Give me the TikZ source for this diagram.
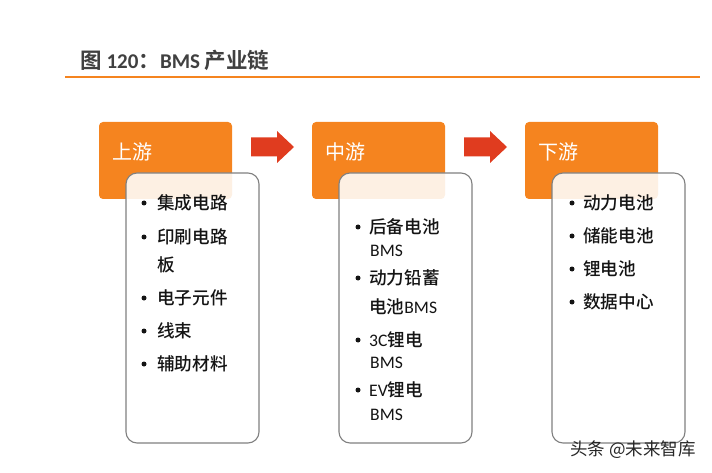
\documentclass[tikz,border=0pt]{standalone}
\usepackage{fontspec}
\setmainfont{Noto Sans CJK SC}[UprightFont={* Medium}, BoldFont={* Bold}]
\newfontfamily\regf{Noto Sans CJK SC}
\newfontfamily\latf{Carlito}
\usetikzlibrary{calc}
\definecolor{orng}{HTML}{F5841F}
\definecolor{arrred}{HTML}{E03C1F}
\definecolor{ttl}{HTML}{404040}
\definecolor{bord}{HTML}{808080}
\definecolor{txt}{HTML}{141414}
\tikzset{
  headbox/.style={fill=orng, rounded corners=4pt, draw=none},
  listbox/.style={fill=white, fill opacity=0.88, draw=bord, line width=1.1pt, rounded corners=11pt, draw opacity=1},
  headtxt/.style={anchor=west, inner sep=0pt, text=white, font=\regf\fontsize{20}{22}\selectfont},
  item/.style={anchor=west, inner sep=0pt, text=txt, font=\fontsize{17.6}{19}\selectfont},
  bul/.style={circle, fill=txt, inner sep=0pt, minimum size=5pt},
  blockarrow/.style={fill=arrred, draw=none},
}
\begin{document}
\begin{tikzpicture}[x=1pt,y=-1pt]
\useasboundingbox (0,0) rectangle (712,473);
% title
\node[anchor=west, inner sep=0pt, text=ttl, font=\bfseries\fontsize{21.5}{23}\selectfont] (title) at (80,60) {图 {\latf\bfseries\fontsize{21}{22}\selectfont 120}：{\latf\bfseries\fontsize{21}{22}\selectfont BMS} 产业链};
\draw[orng, line width=2pt] (65,77) coordinate (l1) -- (700,77) coordinate (l2);

% column 1
\draw[headbox] (99,122) rectangle (232,199);
\node[headtxt] (h1) at (112,152) {上游};
\draw[listbox] (126,173) rectangle (259,443);
\node[bul] at (144,203) {};
\node[item] (a1) at (157,203) {集成电路};
\node[bul] at (144,237) {};
\node[item] (a2) at (157,237) {印刷电路};
\node[item] (a3) at (157,265) {板};
\node[bul] at (144,298) {};
\node[item] (a4) at (157,298) {电子元件};
\node[bul] at (144,331) {};
\node[item] (a5) at (157,331) {线束};
\node[bul] at (144,364) {};
\node[item] (a6) at (157,364) {辅助材料};

% arrow 1
\fill[blockarrow] (251,137.5) -- (277,137.5) -- (277,131) -- (294,147) -- (277,163) -- (277,156.5) -- (251,156.5) -- cycle;

% column 2
\draw[headbox] (312,122) rectangle (445,199);
\node[headtxt] (h2) at (325,152) {中游};
\draw[listbox] (339,173) rectangle (472,443);
\node[bul] at (358,227) {};
\node[item] (b1) at (369,227) {后备电池};
\node[item] (b2) at (370,251) {\latf BMS};
\node[bul] at (358,278) {};
\node[item] (b3) at (369,278) {动力铅蓄};
\node[item] (b4) at (369,307) {电池{\latf BMS}};
\node[bul] at (358,340) {};
\node[item] (b5) at (369,340) {{\latf 3C}锂电};
\node[item] (b6) at (370,363) {\latf BMS};
\node[bul] at (358,390) {};
\node[item] (b7) at (369,390) {{\latf EV}锂电};
\node[item] (b8) at (370,415) {\latf BMS};

% arrow 2
\fill[blockarrow] (464,137.5) -- (490,137.5) -- (490,131) -- (507,147) -- (490,163) -- (490,156.5) -- (464,156.5) -- cycle;

% column 3
\draw[headbox] (525,122) rectangle (658,199);
\node[headtxt] (h3) at (538,152) {下游};
\draw[listbox] (552,173) rectangle (685,443);
\node[bul] at (572,203) {};
\node[item] (c1) at (583,203) {动力电池};
\node[bul] at (572,236) {};
\node[item] (c2) at (583,236) {储能电池};
\node[bul] at (572,269) {};
\node[item] (c3) at (583,269) {锂电池};
\node[bul] at (572,302) {};
\node[item] (c4) at (583,302) {数据中心};

% watermark
\node[anchor=west, inner sep=0pt, text=black!85, font=\regf\fontsize{17.5}{19}\selectfont] (wm) at (570,450) {头条 @未来智库};
\end{tikzpicture}
\end{document}
